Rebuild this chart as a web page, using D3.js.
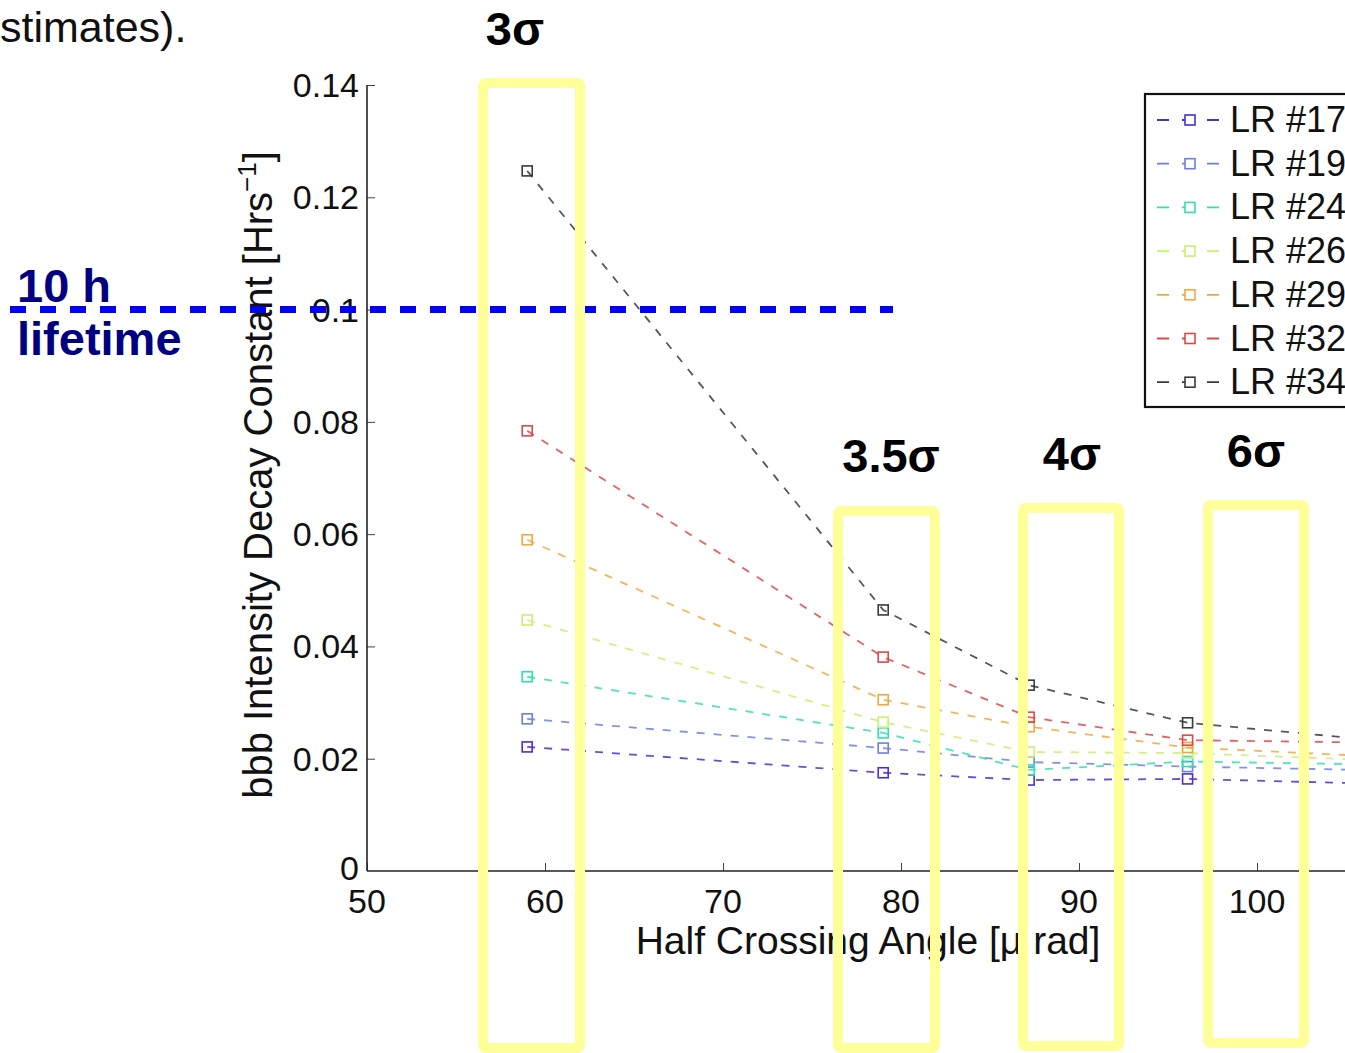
<!DOCTYPE html>
<html>
<head>
<meta charset="utf-8">
<script src="https://cdn.jsdelivr.net/npm/d3@7"></script>
<style>
  html, body { margin: 0; padding: 0; background: #fff; overflow: hidden; }
  svg { display: block; }
</style>
</head>
<body>
<div id="chart-div"></div>
<script>
// --- Data ---
const crossingAngles = [59, 79, 87.2, 96.1, 106];
const seriesNames = ['LR #17', 'LR #19', 'LR #24', 'LR #26', 'LR #29', 'LR #32', 'LR #34'];
const seriesColors = ['#4b2fd0', '#6f7fe0', '#2fe0b0', '#c8f070', '#f0a840', '#e04848', '#3a3a3a'];
const lr17 = [0.0221, 0.0175, 0.0162, 0.0164, 0.0156];
const lr19 = [0.0271, 0.0219, 0.0194, 0.0186, 0.0180];
const lr24 = [0.0346, 0.0246, 0.0180, 0.0195, 0.0190];
const lr26 = [0.0447, 0.0265, 0.0212, 0.0210, 0.0198];
const lr29 = [0.0590, 0.0305, 0.0257, 0.0220, 0.0205];
const lr32 = [0.0784, 0.0381, 0.0274, 0.0233, 0.0229];
const lr34 = [0.1247, 0.0465, 0.0331, 0.0264, 0.0235];
const seriesValues = [lr17, lr19, lr24, lr26, lr29, lr32, lr34];
const xTicks = [50, 60, 70, 80, 90, 100];
const yTicks = [0, 0.02, 0.04, 0.06, 0.08, 0.1, 0.12, 0.14];
const sigmaLabels = ['3σ', '3.5σ', '4σ', '6σ'];
const lifetimeLevel = 0.1;

function createDecayChart() {
  const width = 1345, height = 1053;
  const font = '"Liberation Sans", Arial, Helvetica, sans-serif';

  const svg = d3.select('#chart-div')
    .append('svg')
    .attr('width', width)
    .attr('height', height)
    .style('font-family', font);

  // axes area (right side is cut off in the original slide)
  const x = d3.scaleLinear().domain([50, 100]).range([367, 1257]);
  const y = d3.scaleLinear().domain([0, 0.14]).range([871, 85]);

  // top-left leftover slide text
  svg.append('text')
    .attr('x', 0).attr('y', 42)
    .style('font-size', '43px')
    .attr('fill', '#111')
    .text('stimates).');

  // --- Axes ---
  const xAxis = svg.append('g')
    .attr('transform', `translate(0,${y(0)})`)
    .call(d3.axisTop(x).tickValues(xTicks).tickSize(8).tickFormat(''));
  xAxis.select('.domain').remove();
  xAxis.selectAll('line').attr('stroke', '#444');
  svg.append('line')
    .attr('x1', x(50)).attr('x2', width)
    .attr('y1', y(0)).attr('y2', y(0))
    .attr('stroke', '#222').attr('stroke-width', 1.6);

  svg.selectAll('.xtick-label')
    .data(xTicks)
    .enter().append('text')
    .attr('class', 'xtick-label')
    .attr('x', d => x(d))
    .attr('y', 913)
    .attr('text-anchor', 'middle')
    .style('font-size', '34px')
    .attr('fill', '#111')
    .text(d => d);

  const yAxis = svg.append('g')
    .attr('transform', `translate(${x(50)},0)`)
    .call(d3.axisRight(y).tickValues(yTicks.slice(1)).tickSize(8).tickFormat(''));
  yAxis.select('.domain').remove();
  yAxis.selectAll('line').attr('stroke', '#444');
  svg.append('line')
    .attr('x1', x(50)).attr('x2', x(50))
    .attr('y1', y(0.14)).attr('y2', y(0))
    .attr('stroke', '#222').attr('stroke-width', 1.6);

  svg.selectAll('.ytick-label')
    .data(yTicks)
    .enter().append('text')
    .attr('class', 'ytick-label')
    .attr('x', 359)
    .attr('y', d => y(d) + (d === 0 ? 9 : 12))
    .attr('text-anchor', 'end')
    .style('font-size', '34px')
    .attr('fill', '#111')
    .text(d => d === 0 ? '0' : d3.format('.2~f')(d));

  // axis titles
  const yTitle = svg.append('text')
    .attr('transform', 'translate(272,475) rotate(-90)')
    .attr('text-anchor', 'middle')
    .style('font-size', '40px')
    .attr('fill', '#111');
  yTitle.append('tspan').text('bbb Intensity Decay Constant [Hrs');
  yTitle.append('tspan').attr('dy', -16).style('font-size', '26px').text('−1');
  yTitle.append('tspan').attr('dy', 16).text(']');

  svg.append('text')
    .attr('x', 868).attr('y', 954)
    .attr('text-anchor', 'middle')
    .style('font-size', '39px')
    .attr('fill', '#111')
    .text('Half Crossing Angle [μ rad]');

  // --- Series ---
  const line = d3.line()
    .x((d, i) => x(crossingAngles[i]))
    .y(d => y(d));

  seriesValues.forEach((vals, s) => {
    svg.append('path')
      .datum(vals)
      .attr('d', line)
      .attr('fill', 'none')
      .attr('stroke', seriesColors[s])
      .attr('stroke-width', 1.8)
      .attr('stroke-dasharray', '8,9')
      .attr('opacity', 0.85);

    svg.selectAll(`.mark-${s}`)
      .data(vals)
      .enter().append('rect')
      .attr('class', `mark-${s}`)
      .attr('x', (d, i) => x(crossingAngles[i]) - 5)
      .attr('y', d => y(d) - 5)
      .attr('width', 10).attr('height', 10)
      .attr('fill', 'none')
      .attr('stroke', seriesColors[s])
      .attr('stroke-width', 1.6);
  });

  // --- Legend ---
  const legend = svg.append('g');
  legend.append('rect')
    .attr('x', 1145).attr('y', 94)
    .attr('width', 260).attr('height', 313)
    .attr('fill', '#fff')
    .attr('stroke', '#111')
    .attr('stroke-width', 2.2);
  seriesNames.forEach((name, s) => {
    const ly = 120 + s * 43.7;
    legend.append('line')
      .attr('x1', 1157).attr('x2', 1225)
      .attr('y1', ly).attr('y2', ly)
      .attr('stroke', seriesColors[s])
      .attr('stroke-width', 1.8)
      .attr('stroke-dasharray', '12,13');
    legend.append('rect')
      .attr('x', 1185).attr('y', ly - 5)
      .attr('width', 10).attr('height', 10)
      .attr('fill', '#fff')
      .attr('stroke', seriesColors[s])
      .attr('stroke-width', 1.6);
    legend.append('text')
      .attr('x', 1230).attr('y', ly + 12)
      .style('font-size', '36px')
      .attr('fill', '#111')
      .text(name);
  });

  // --- 10 h lifetime line ---
  svg.append('line')
    .attr('x1', 10).attr('x2', 893)
    .attr('y1', y(lifetimeLevel)).attr('y2', y(lifetimeLevel))
    .attr('stroke', '#0000ff')
    .attr('stroke-width', 7)
    .attr('stroke-dasharray', '16,14');
  svg.append('text')
    .attr('x', 17).attr('y', 302)
    .style('font-size', '47px').style('font-weight', 'bold')
    .attr('fill', '#000080')
    .text('10 h');
  svg.append('text')
    .attr('x', 17).attr('y', 355)
    .style('font-size', '47px').style('font-weight', 'bold')
    .attr('fill', '#000080')
    .text('lifetime');

  // --- Sigma highlight boxes ---
  const boxes = [
    { x0: 483, x1: 580, y0: 83, y1: 1048, lx: 515, ly: 45 },
    { x0: 838, x1: 935, y0: 511, y1: 1048, lx: 891, ly: 472 },
    { x0: 1023, x1: 1119, y0: 508, y1: 1046, lx: 1072, ly: 470 },
    { x0: 1208, x1: 1304, y0: 505, y1: 1043, lx: 1256, ly: 467 }
  ];
  boxes.forEach((b, i) => {
    svg.append('rect')
      .attr('x', b.x0).attr('y', b.y0)
      .attr('width', b.x1 - b.x0).attr('height', b.y1 - b.y0)
      .attr('rx', 3)
      .attr('fill', 'none')
      .attr('stroke', '#ffff99')
      .attr('stroke-width', 10);
    svg.append('text')
      .attr('x', b.lx).attr('y', b.ly)
      .attr('text-anchor', 'middle')
      .style('font-size', '47px').style('font-weight', 'bold')
      .attr('fill', '#000')
      .text(sigmaLabels[i]);
  });
}

createDecayChart();
</script>
</body>
</html>
